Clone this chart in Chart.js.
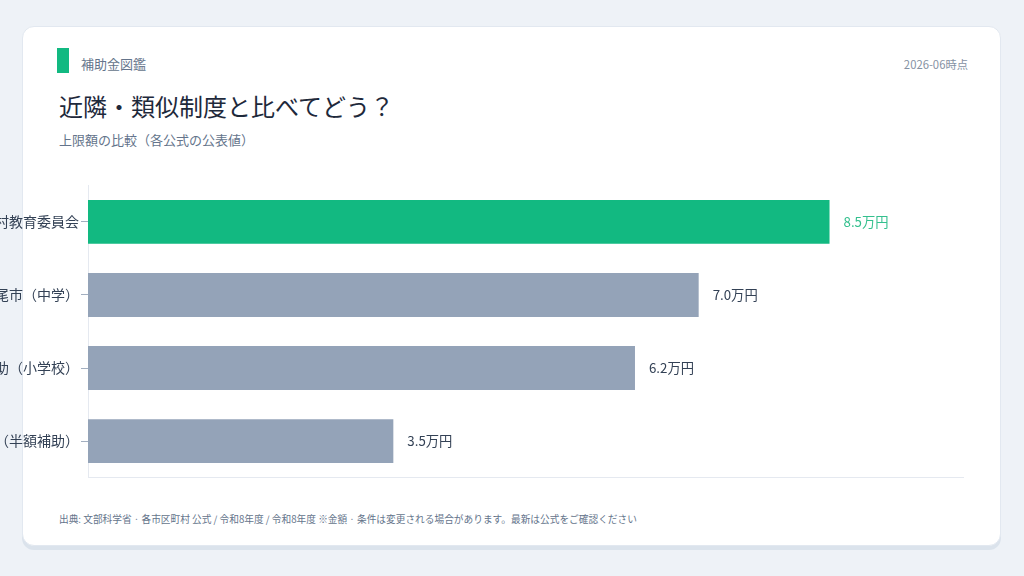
<!DOCTYPE html>
<html lang="ja">
<head>
<meta charset="utf-8">
<script src="https://cdn.jsdelivr.net/npm/chart.js@4/dist/chart.umd.min.js"></script>
<style>
  html, body { margin: 0; padding: 0; }
  body {
    width: 1024px; height: 576px; overflow: hidden; position: relative;
    background: #eef2f7;
    font-family: 'Noto Sans CJK JP', 'Noto Sans', sans-serif;
  }
  .card {
    position: absolute; left: 22px; top: 26px; width: 977px; height: 518px;
    background: #fff; border: 1px solid #e2e8f0; border-radius: 12px;
    box-shadow: 0 4px 0 #dbe3ec;
  }
  .mark { position: absolute; left: 34px; top: 21px; width: 12px; height: 25px; background: #12b981; }
  .brand { position: absolute; left: 58px; top: 27px; font-size: 13px; color: #64748b; }
  .date { position: absolute; right: 32px; top: 29px; font-size: 11.3px; color: #8591a3; }
  .title { position: absolute; left: 36px; top: 61px; font-size: 24px; color: #1e293b; }
  .sub { position: absolute; left: 36px; top: 103px; font-size: 13px; color: #64748b; }
  .foot { position: absolute; left: 36px; top: 485px; font-size: 9.7px; color: #64748b; }
  .chart-box { position: absolute; left: 0; top: 175px; width: 1024px; height: 313px; }
</style>
</head>
<body>
<div class="card">
  <div class="mark"></div>
  <div class="brand">補助金図鑑</div>
  <div class="date">2026-06時点</div>
  <div class="title">近隣・類似制度と比べてどう？</div>
  <div class="sub">上限額の比較（各公式の公表値）</div>
  <div class="foot">出典: 文部科学省 · 各市区町村 公式 / 令和8年度 / 令和8年度 ※金額 · 条件は変更される場合があります。最新は公式をご確認ください</div>
</div>
<div class="chart-box"><canvas id="cmp"></canvas></div>
<script>
const categories = ['市町村教育委員会', '八尾市（中学）', '就学援助（小学校）', '国の制度（半額補助）'];
const amounts = [8.5, 7.0, 6.27, 3.5];
const amountLabels = ['8.5万円', '7.0万円', '6.2万円', '3.5万円'];
const barColors = ['#12b981', '#94a3b8', '#94a3b8', '#94a3b8'];
const labelColors = ['#34c08e', '#334155', '#334155', '#334155'];

const FONT = "'Noto Sans CJK JP', 'Noto Sans', sans-serif";

const valueLabels = {
    id: 'valueLabels',
    afterDatasetsDraw(chart) {
        const c = chart.ctx;
        const meta = chart.getDatasetMeta(0);
        c.save();
        c.font = '13.3px ' + FONT;
        c.textBaseline = 'middle';
        c.textAlign = 'left';
        meta.data.forEach((bar, i) => {
            c.fillStyle = labelColors[i];
            c.fillText(amountLabels[i], bar.x + 14, bar.y);
        });
        c.restore();
    }
};

const ctx = document.getElementById('cmp').getContext('2d');
const cmpChart = new Chart(ctx, {
    type: 'bar',
    data: {
        labels: categories,
        datasets: [{
            data: amounts,
            backgroundColor: barColors,
            barPercentage: 0.6,
            categoryPercentage: 1
        }]
    },
    options: {
        indexAxis: 'y',
        responsive: true,
        maintainAspectRatio: false,
        animation: false,
        layout: { padding: { top: 10, bottom: 10, left: 0, right: 61 } },
        plugins: { legend: { display: false }, tooltip: { enabled: false } },
        scales: {
            x: {
                min: 0,
                max: 10.03,
                ticks: { display: false },
                grid: { display: false, drawTicks: false },
                border: { display: true, color: '#e5e9f0' }
            },
            y: {
                afterFit(scale) { scale.width = 88; },
                ticks: { color: '#334155', font: { size: 14, family: FONT }, padding: 2 },
                grid: { offset: false, drawOnChartArea: false, drawTicks: true, tickLength: 7, color: '#a3afc0' },
                border: { display: true, color: '#e5e9f0' }
            }
        }
    },
    plugins: [valueLabels]
});
</script>
</body>
</html>
